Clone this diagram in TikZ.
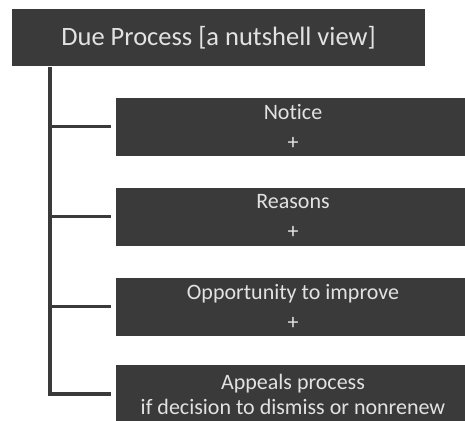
\documentclass[tikz,border=0pt]{standalone}
\usepackage{fontspec}
\setmainfont{Carlito}[Ligatures=NoCommon]
\usetikzlibrary{calc}

\definecolor{boxgrey}{HTML}{3A3A3A}
\definecolor{boxtext}{HTML}{E2E2E2}

\begin{document}
\begin{tikzpicture}[x=1pt,y=-1pt,
        stepbox/.style={fill=boxgrey, text=boxtext, minimum width=354pt, minimum height=58pt, align=center, inner sep=0pt, font=\fontsize{22}{30}\selectfont},
        branch/.style={draw=boxgrey, line width=3.8pt, shorten >=5pt}]
        \useasboundingbox (0,0) rectangle (465,420);

        \node[stepbox, minimum width=413pt, minimum height=57pt, font=\fontsize{26.5}{30}\selectfont] (due) at (218.5,37.5) {Due Process [a nutshell view]};

        \node[stepbox] (notice) at (293,126.5) {Notice\\+};
        \node[stepbox] (reasons) at (293,216.5) {Reasons\\+};
        \node[stepbox] (improve) at (293,306.5) {Opportunity to improve\\+};
        \node[stepbox, font=\fontsize{22}{25}\selectfont] (appeals) at (293,394) {Appeals process\\if decision to dismiss or nonrenew};

        \coordinate (trunk) at (50,67);
        \draw[branch, line join=miter] (trunk) |- (appeals.west);
        \draw[branch] (trunk |- notice.west) -- (notice.west);
        \draw[branch] (trunk |- reasons.west) -- (reasons.west);
        \draw[branch] (trunk |- improve.west) -- (improve.west);
\end{tikzpicture}
\end{document}
